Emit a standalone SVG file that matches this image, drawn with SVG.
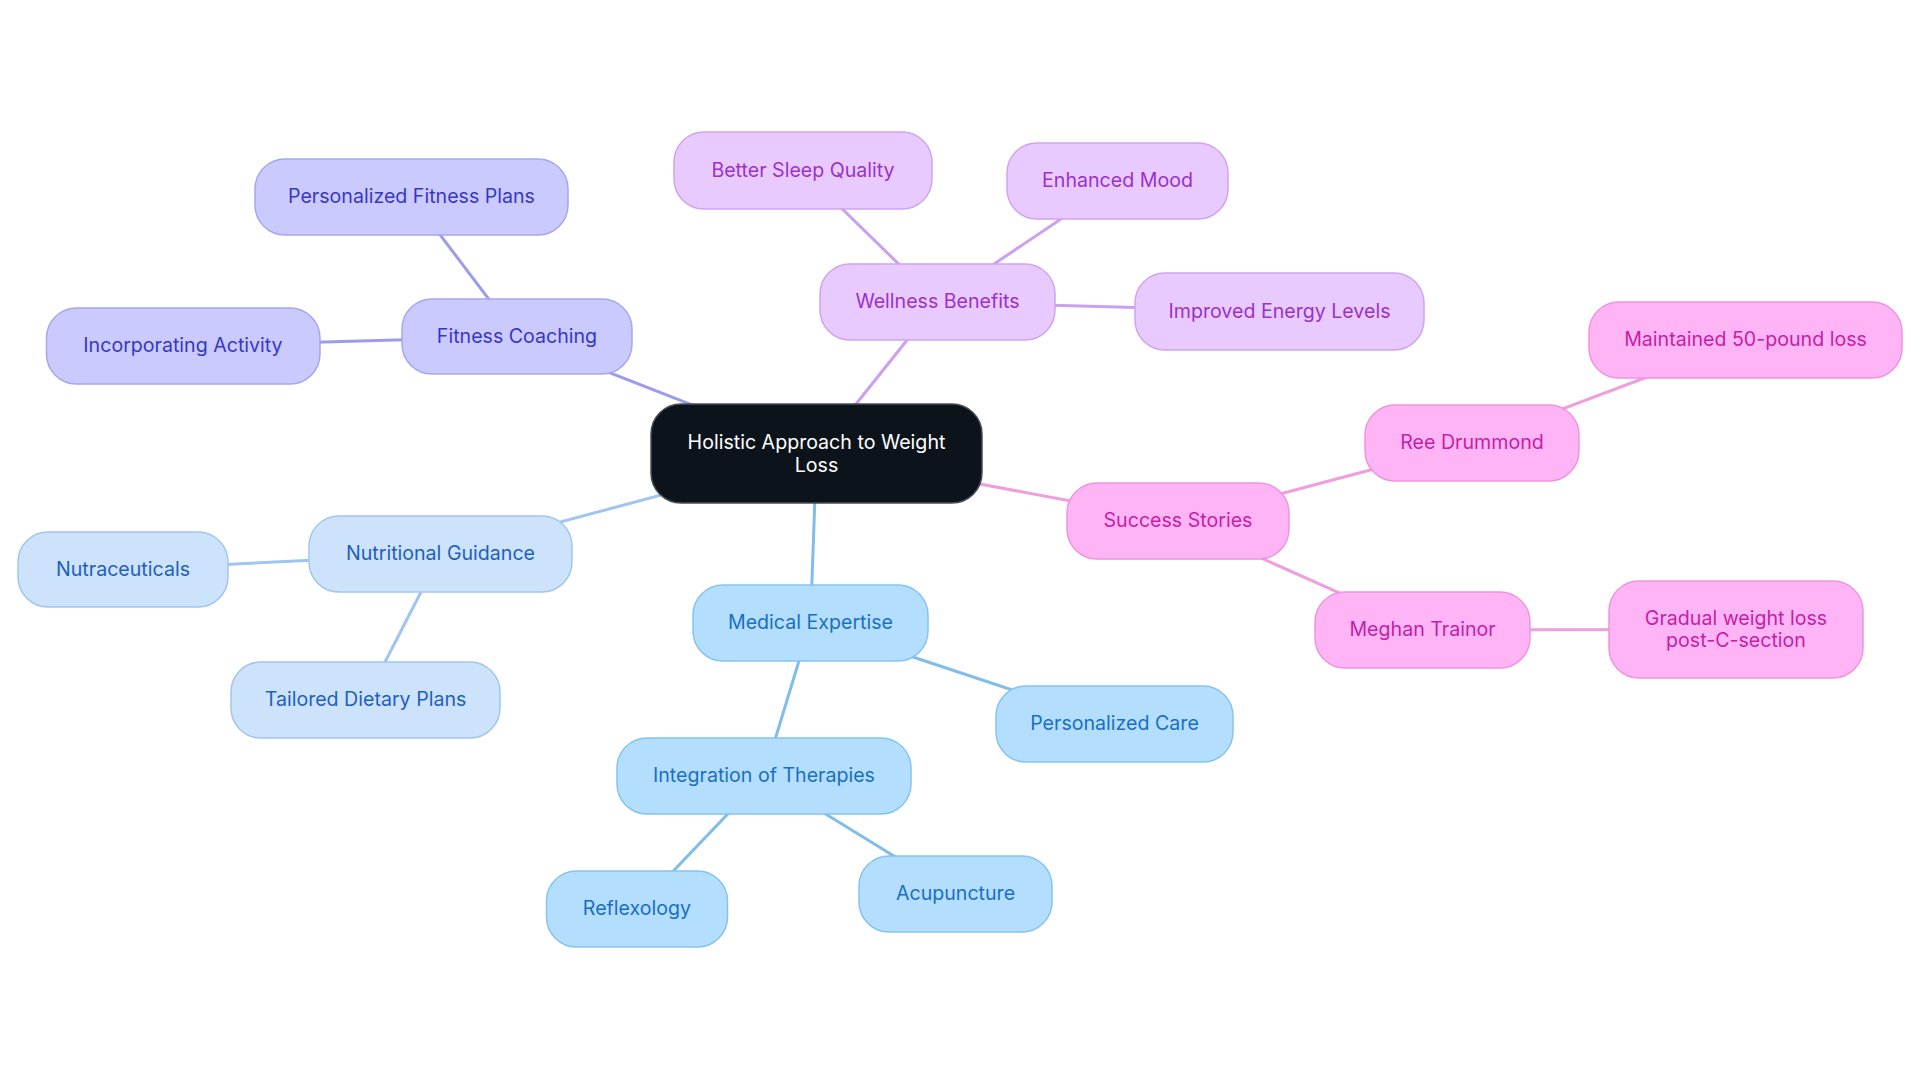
<svg xmlns="http://www.w3.org/2000/svg" width="1920" height="1083" viewBox="0 0 1920 1083">
<style>
text{font-family:Inter,"Liberation Sans",Arial,sans-serif;font-size:19.6px;text-anchor:middle}
.n rect{stroke-width:1.5}
.e line{stroke-width:3;stroke-linecap:round}
.root rect{fill:#0d131a;stroke:#4a4f57}
.root text{fill:#ffffff}
.s0 rect{fill:#cacaff;stroke:#a6a6f0}.s0 text{fill:#3838c0}
.s1 rect{fill:#e8caff;stroke:#cfa4f0}.s1 text{fill:#9a32c8}
.s2 rect{fill:#ffb4f5;stroke:#ee94e0}.s2 text{fill:#c41fa6}
.s3 rect{fill:#cde3fb;stroke:#a0c6ee}.s3 text{fill:#1f60bb}
.s4 rect{fill:#b4defd;stroke:#86c3ee}.s4 text{fill:#1a6fc2}
.c0{stroke:#9c9cee}.c1{stroke:#c9a1ee}.c2{stroke:#ef9ede}.c3{stroke:#9fc5f0}.c4{stroke:#80bde8}
</style>
<rect width="1920" height="1083" fill="#ffffff"/>
<g id="connectors" class="e">
<line class="c0" x1="816.5" y1="453.5" x2="517" y2="336.5"/>
<line class="c0" x1="517" y1="336.5" x2="411.5" y2="197"/>
<line class="c0" x1="517" y1="336.5" x2="183" y2="346"/>
<line class="c1" x1="816.5" y1="453.5" x2="937.5" y2="302"/>
<line class="c1" x1="937.5" y1="302" x2="803" y2="170.5"/>
<line class="c1" x1="937.5" y1="302" x2="1117.5" y2="181"/>
<line class="c1" x1="937.5" y1="302" x2="1279.5" y2="311.5"/>
<line class="c2" x1="816.5" y1="453.5" x2="1178" y2="521"/>
<line class="c2" x1="1178" y1="521" x2="1472" y2="443"/>
<line class="c2" x1="1472" y1="443" x2="1745.5" y2="340"/>
<line class="c2" x1="1178" y1="521" x2="1422.5" y2="630"/>
<line class="c2" x1="1422.5" y1="630" x2="1736" y2="629.5"/>
<line class="c3" x1="816.5" y1="453.5" x2="440.5" y2="554"/>
<line class="c3" x1="440.5" y1="554" x2="123" y2="569.5"/>
<line class="c3" x1="440.5" y1="554" x2="365.5" y2="700"/>
<line class="c4" x1="816.5" y1="453.5" x2="810.5" y2="623"/>
<line class="c4" x1="810.5" y1="623" x2="1114.5" y2="724"/>
<line class="c4" x1="810.5" y1="623" x2="764" y2="776"/>
<line class="c4" x1="764" y1="776" x2="637" y2="909"/>
<line class="c4" x1="764" y1="776" x2="955.5" y2="894"/>
</g>
<g id="root" class="n root"><rect x="651" y="404" width="331" height="99" rx="30"/><text x="816.5" y="448.5">Holistic Approach to Weight</text><text x="816.5" y="471.5">Loss</text></g>
<g id="fitness" class="n s0"><rect x="402" y="299" width="230" height="75" rx="30"/><text x="517" y="342.5">Fitness Coaching</text></g>
<g id="fitness-plans" class="n s0"><rect x="255" y="159" width="313" height="76" rx="30"/><text x="411.5" y="203">Personalized Fitness Plans</text></g>
<g id="activity" class="n s0"><rect x="46.5" y="308" width="273.5" height="76" rx="30"/><text x="183" y="352">Incorporating Activity</text></g>
<g id="wellness" class="n s1"><rect x="820" y="264" width="235" height="76" rx="30"/><text x="937.5" y="308">Wellness Benefits</text></g>
<g id="sleep" class="n s1"><rect x="674" y="132" width="258" height="77" rx="30"/><text x="803" y="176.5">Better Sleep Quality</text></g>
<g id="mood" class="n s1"><rect x="1007" y="143" width="221" height="76" rx="30"/><text x="1117.5" y="187">Enhanced Mood</text></g>
<g id="energy" class="n s1"><rect x="1135" y="273" width="289" height="77" rx="30"/><text x="1279.5" y="317.5">Improved Energy Levels</text></g>
<g id="success" class="n s2"><rect x="1067" y="483" width="222" height="76" rx="30"/><text x="1178" y="527">Success Stories</text></g>
<g id="ree" class="n s2"><rect x="1365" y="405" width="214" height="76" rx="30"/><text x="1472" y="449">Ree Drummond</text></g>
<g id="maintained" class="n s2"><rect x="1589" y="302" width="313" height="76" rx="30"/><text x="1745.5" y="346">Maintained 50-pound loss</text></g>
<g id="meghan" class="n s2"><rect x="1315" y="592" width="215" height="76" rx="30"/><text x="1422.5" y="636">Meghan Trainor</text></g>
<g id="gradual" class="n s2"><rect x="1609" y="581" width="254" height="97" rx="30"/><text x="1736" y="624.5">Gradual weight loss</text><text x="1736" y="646.5">post-C-section</text></g>
<g id="nutrition" class="n s3"><rect x="309" y="516" width="263" height="76" rx="30"/><text x="440.5" y="560">Nutritional Guidance</text></g>
<g id="nutraceuticals" class="n s3"><rect x="18" y="532" width="210" height="75" rx="30"/><text x="123" y="575.5">Nutraceuticals</text></g>
<g id="dietary" class="n s3"><rect x="231" y="662" width="269" height="76" rx="30"/><text x="365.5" y="706">Tailored Dietary Plans</text></g>
<g id="medical" class="n s4"><rect x="693" y="585" width="235" height="76" rx="30"/><text x="810.5" y="629">Medical Expertise</text></g>
<g id="care" class="n s4"><rect x="996" y="686" width="237" height="76" rx="30"/><text x="1114.5" y="730">Personalized Care</text></g>
<g id="therapies" class="n s4"><rect x="617" y="738" width="294" height="76" rx="30"/><text x="764" y="782">Integration of Therapies</text></g>
<g id="reflexology" class="n s4"><rect x="546.5" y="871" width="181" height="76" rx="30"/><text x="637" y="915">Reflexology</text></g>
<g id="acupuncture" class="n s4"><rect x="859" y="856" width="193" height="76" rx="30"/><text x="955.5" y="900">Acupuncture</text></g>
</svg>
